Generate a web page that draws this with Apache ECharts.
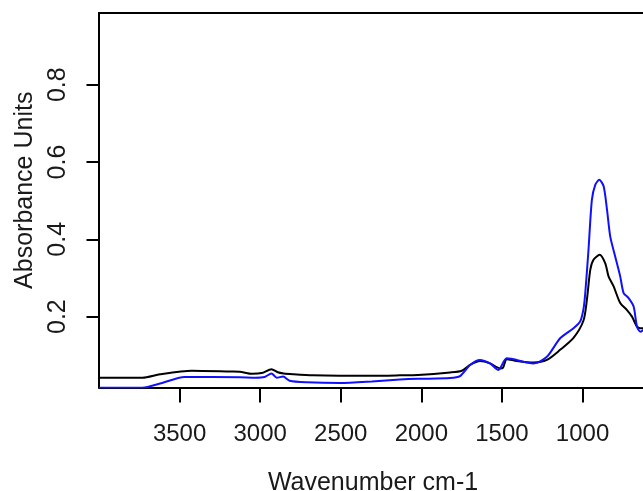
<!DOCTYPE html>
<html>
<head>
<meta charset="utf-8">
<script src="https://cdn.jsdelivr.net/npm/echarts@6/dist/echarts.min.js"></script>
<style>
  html, body { margin: 0; padding: 0; background: #fff; }
  #chart { width: 643px; height: 491px; }
</style>
</head>
<body>
<div id="chart"></div>
<script>
// IR spectra: absorbance against wavenumber (cm-1), two samples
const blackWavenumber = [4000, 3730, 3621, 3424, 3183, 3127, 3050, 2990, 2930, 2891, 2854, 2796, 2672, 2506, 2307, 2133, 2021, 1822, 1749, 1698, 1636, 1574, 1511, 1493, 1470, 1408, 1304, 1221, 1139, 1056, 994, 973, 952, 932, 894, 859, 838, 807, 766, 724, 693, 662, 641, 610];
const blackAbsorbance = [0.042, 0.042, 0.051, 0.060, 0.058, 0.0575, 0.052, 0.054, 0.064, 0.056, 0.053, 0.051, 0.048, 0.047, 0.047, 0.048, 0.049, 0.0555, 0.060, 0.075, 0.085, 0.079, 0.066, 0.068, 0.090, 0.085, 0.081, 0.088, 0.114, 0.145, 0.190, 0.243, 0.321, 0.347, 0.360, 0.338, 0.3035, 0.278, 0.235, 0.217, 0.200, 0.174, 0.170, 0.170];

const blueWavenumber = [4000, 3730, 3621, 3469, 3127, 3029, 2972, 2930, 2897, 2858, 2817, 2713, 2506, 2307, 2133, 2021, 1822, 1760, 1698, 1636, 1574, 1522, 1470, 1304, 1221, 1139, 1056, 1014, 994, 983, 963, 942, 921, 896, 869, 848, 828, 797, 766, 745, 714, 683, 662, 641, 610];
const blueAbsorbance = [0.016, 0.016, 0.027, 0.044, 0.043, 0.042, 0.044, 0.053, 0.042, 0.045, 0.034, 0.030, 0.028, 0.032, 0.037, 0.039, 0.041, 0.046, 0.075, 0.088, 0.079, 0.062, 0.092, 0.079, 0.096, 0.144, 0.170, 0.188, 0.220, 0.261, 0.373, 0.502, 0.541, 0.554, 0.537, 0.476, 0.407, 0.355, 0.3035, 0.261, 0.248, 0.226, 0.174, 0.161, 0.170];

const xTickValues = [3500, 3000, 2500, 2000, 1500, 1000];
const yTickValues = [0.2, 0.4, 0.6, 0.8];

// axis ranges (wavenumber axis runs high to low)
const X_MIN = 600, X_MAX = 4000;
const Y_MIN = 0.0166, Y_MAX = 0.9855;

const toPairs = (xs, ys) => xs.map((x, i) => [x, ys[i]]);

const font = "'Liberation Sans', Arial, Helvetica, sans-serif";
const textColor = '#1a1a1a';
const frameLine = { show: true, lineStyle: { color: '#000', width: 2 } };

const chart = echarts.init(document.getElementById('chart'), null, { renderer: 'canvas' });

chart.setOption({
  animation: false,
  grid: {
    left: 99, top: 13, right: -4, bottom: 103.5,
    outerBoundsMode: 'none'
  },
  xAxis: [
    {
      type: 'value',
      inverse: true,
      min: X_MIN,
      max: X_MAX,
      name: 'Wavenumber cm-1',
      nameLocation: 'middle',
      nameGap: 83,
      nameTextStyle: { fontFamily: font, fontSize: 25, color: textColor },
      splitLine: { show: false },
      axisLine: frameLine,
      axisTick: { show: true, customValues: xTickValues, length: 15, lineStyle: { color: '#000', width: 2 } },
      axisLabel: { customValues: xTickValues, margin: 35, fontFamily: font, fontSize: 24, color: textColor,
        formatter: v => String(v) }
    },
    {
      // top edge of the plot frame
      type: 'value',
      position: 'top',
      inverse: true,
      min: X_MIN,
      max: X_MAX,
      splitLine: { show: false },
      axisLine: frameLine,
      axisTick: { show: false },
      axisLabel: { show: false }
    }
  ],
  yAxis: {
    type: 'value',
    min: Y_MIN,
    max: Y_MAX,
    name: 'Absorbance Units',
    nameLocation: 'middle',
    nameGap: 52,
    nameTextStyle: { fontFamily: font, fontSize: 25, color: textColor, padding: [0, 0, 0, 20] },
    splitLine: { show: false },
    axisLine: frameLine,
    axisTick: { show: true, customValues: yTickValues, length: 12.5, lineStyle: { color: '#000', width: 2 } },
    axisLabel: { customValues: yTickValues, rotate: 90, margin: 28, fontFamily: font, fontSize: 25, color: textColor,
      formatter: v => v.toFixed(1) }
  },
  series: [
    {
      name: 'sample A',
      type: 'line',
      data: toPairs(blackWavenumber, blackAbsorbance),
      showSymbol: false,
      smooth: 0.25,
      lineStyle: { color: '#000000', width: 2 },
      z: 2
    },
    {
      name: 'sample B',
      type: 'line',
      data: toPairs(blueWavenumber, blueAbsorbance),
      showSymbol: false,
      smooth: 0.25,
      lineStyle: { color: '#1010ff', width: 2 },
      z: 3
    }
  ]
});
</script>
</body>
</html>
